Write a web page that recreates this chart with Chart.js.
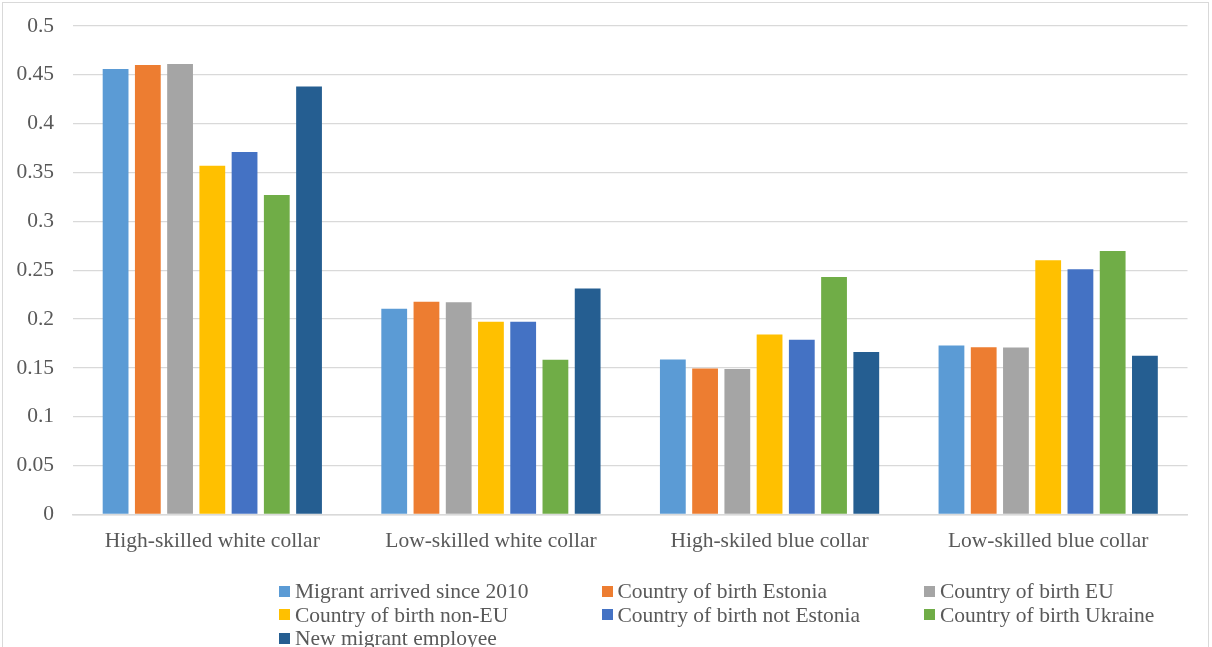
<!DOCTYPE html>
<html>
<head>
<meta charset="utf-8">
<script src="https://cdn.jsdelivr.net/npm/chart.js@4/dist/chart.umd.min.js"></script>
<style>
  html, body { margin: 0; padding: 0; background: #fff; overflow: hidden; }
  #wrap { position: relative; width: 1212px; height: 647px; }
  #frame { position: absolute; left: 2px; top: 2px; width: 1205px; height: 700px; border: 1px solid #d9d9d9; pointer-events: none; }
  #c { position: absolute; left: 0; top: 0; }
  .lg { position: absolute; font-family: "Liberation Serif", "Times New Roman", serif; font-size: 21.5px; color: #595959; white-space: nowrap; line-height: 24px; height: 24px; }
  .lg span.box { position: absolute; left: 0; top: 6.5px; width: 11px; height: 11px; }
  .lg span.txt { position: absolute; left: 16px; top: 0; }
</style>
</head>
<body>
<div id="wrap">
  <div id="frame"></div>
  <canvas id="c" width="1212" height="647"></canvas>
  <div id="legend"></div>
</div>
<script>
const categories = ["High-skilled white collar", "Low-skilled white collar", "High-skiled blue collar", "Low-skilled blue collar"];
const seriesNames = ["Migrant arrived since 2010", "Country of birth Estonia", "Country of birth EU", "Country of birth non-EU", "Country of birth not Estonia", "Country of birth Ukraine", "New migrant employee"];
const migrantSince2010 = [0.456, 0.2105, 0.1587, 0.173];
const birthEstonia     = [0.460, 0.2177, 0.1495, 0.1713];
const birthEU          = [0.461, 0.2173, 0.1488, 0.171];
const birthNonEU       = [0.357, 0.1973, 0.1843, 0.2603];
const birthNotEstonia  = [0.371, 0.1973, 0.1789, 0.251];
const birthUkraine     = [0.327, 0.1585, 0.2432, 0.2698];
const newMigrant       = [0.438, 0.2313, 0.1662, 0.1624];
const seriesColors = ["#5B9BD5", "#ED7D31", "#A5A5A5", "#FFC000", "#4472C4", "#70AD47", "#255E91"];
const yMin = 0, yMax = 0.5, yStep = 0.05;

const seriesValues = [migrantSince2010, birthEstonia, birthEU, birthNonEU, birthNotEstonia, birthUkraine, newMigrant];
const FONT = "'Liberation Serif', 'Times New Roman', serif";
const TXT = "#595959";

const chart = new Chart(document.getElementById('c'), {
  type: 'bar',
  data: {
    labels: categories,
    datasets: seriesNames.map((n, i) => ({
      label: n,
      data: seriesValues[i],
      backgroundColor: seriesColors[i],
      borderWidth: 0,
      categoryPercentage: 0.81,
      barPercentage: 0.8
    }))
  },
  options: {
    responsive: false,
    animation: false,
    devicePixelRatio: 1,
    layout: { padding: { left: 12, top: 26, right: 24.5, bottom: 87.5 } },
    plugins: { legend: { display: false }, tooltip: { enabled: false } },
    scales: {
      x: {
        grid: { display: false, drawTicks: false },
        border: { display: true, color: '#d9d9d9', width: 1.5 },
        ticks: { color: TXT, font: { family: FONT, size: 21.5 }, padding: 14, maxRotation: 0 },
        afterFit: s => { s.height = 45; s.paddingLeft = 0; s.paddingRight = 0; }
      },
      y: {
        min: yMin, max: yMax,
        grid: { color: '#d9d9d9', lineWidth: 1.3, drawTicks: false },
        border: { display: false },
        ticks: {
          stepSize: yStep,
          color: TXT,
          font: { family: FONT, size: 21.5 },
          padding: 19,
          callback: v => String(parseFloat(Number(v).toFixed(2)))
        },
        afterFit: s => { s.width = 61; s.paddingTop = 0; s.paddingBottom = 0; }
      }
    }
  }
});

// Legend as real text, built from the chart's datasets (3 columns grid)
const legend = document.getElementById('legend');
chart.data.datasets.forEach((ds, i) => {
  const col = i % 3, row = Math.floor(i / 3);
  const item = document.createElement('div');
  item.className = 'lg';
  item.style.left = (279 + col * 322.5) + 'px';
  item.style.top = (591 + row * 23.5 - 12) + 'px';
  const box = document.createElement('span');
  box.className = 'box';
  box.style.background = ds.backgroundColor;
  const t = document.createElement('span');
  t.className = 'txt';
  t.textContent = ds.label;
  item.appendChild(box); item.appendChild(t);
  legend.appendChild(item);
});
</script>
</body>
</html>
